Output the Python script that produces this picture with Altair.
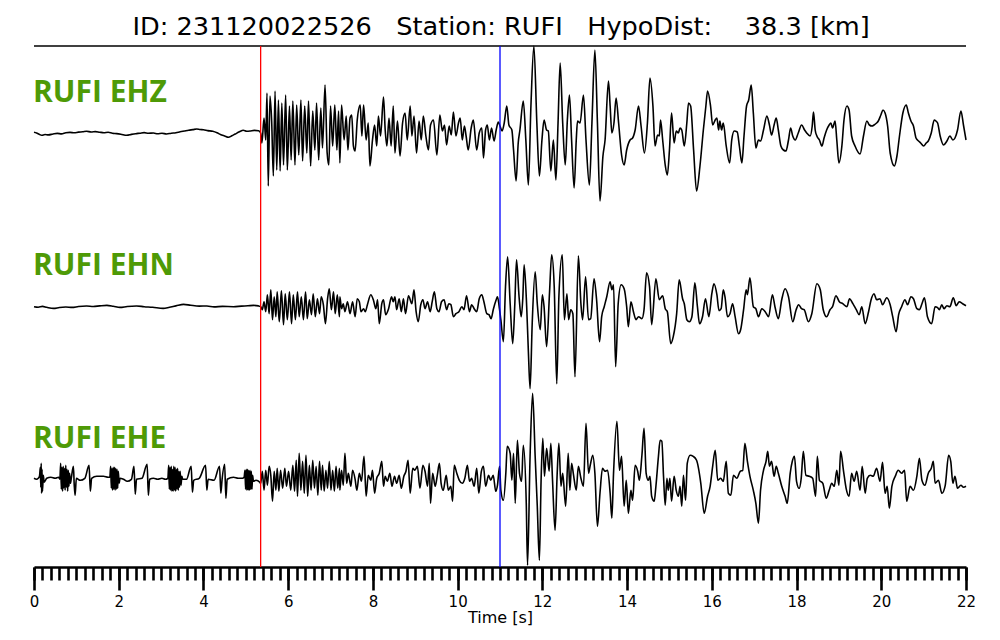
import altair as alt
import pandas as pd

# ---------------- text ----------------
NB = "\u00a0"
TITLE = "ID: 231120022526" + NB * 3 + "Station: RUFI" + NB * 3 + "HypoDist:" + NB * 4 + "38.3 [km]"
CHANNELS = ["RUFI EHZ", "RUFI EHN", "RUFI EHE"]
X_TITLE = "Time [s]"

# picks (s)
P_PICK = 5.35
S_PICK = 11.0

# tick values (s)
MAJOR_TICKS = list(range(0, 23, 2))
MINOR_TICKS = [round(0.2 * i, 1) for i in range(111)]

# ---------------- waveforms: (time [s], amplitude) ----------------
EHZ = [
    (0.00, 0.7), (0.06, 0.0), (0.12, -1.2), (0.18, -2.3), (0.26, -1.5), (0.34, -1.9), (0.45, -1.0),
    (0.55, -0.4), (0.65, -0.9), (0.75, 0.2), (0.85, 0.6), (0.95, 0.2), (1.05, 0.9), (1.15, 1.2),
    (1.24, 1.7), (1.35, 1.0), (1.45, 1.4), (1.55, 0.8), (1.65, 0.3), (1.75, 0.7), (1.85, -0.2),
    (1.95, -0.6), (2.05, -1.2), (2.19, -2.3), (2.30, -1.4), (2.40, -0.7), (2.50, -0.2), (2.60, 0.4),
    (2.70, -0.3), (2.82, 0.0), (2.92, -0.8), (3.02, -0.3), (3.13, -1.0), (3.24, -0.2), (3.35, 0.3),
    (3.45, 1.2), (3.55, 2.0), (3.65, 2.8), (3.75, 3.4), (3.84, 4.0), (3.92, 3.5), (4.00, 3.3),
    (4.10, 2.4), (4.22, 1.7), (4.32, 0.2), (4.40, -1.5), (4.50, -3.0), (4.59, -4.3), (4.67, -2.8),
    (4.75, -1.0), (4.85, 1.2), (4.94, 2.7), (5.02, 1.8), (5.10, 2.0), (5.20, 2.6), (5.30, 2.3),
    (5.35, 0), (5.38, -10), (5.43, 15), (5.47, -7), (5.50, 40), (5.53, -53), (5.57, 37), (5.61, 12),
    (5.65, -43), (5.69, 42), (5.73, -37), (5.77, 33), (5.81, -38), (5.85, 30), (5.89, -32), (5.94, 38),
    (5.98, -37), (6.03, 27), (6.07, -27), (6.11, 32), (6.16, -32), (6.20, 28), (6.25, -22), (6.30, 33),
    (6.34, -28), (6.39, 27), (6.44, -20), (6.48, 32), (6.53, -33), (6.58, 22), (6.63, -17), (6.67, 30),
    (6.72, -27), (6.77, 25), (6.81, -15), (6.87, 48), (6.92, -20), (6.96, -32), (7.00, 27), (7.05, -13),
    (7.10, 28), (7.15, -17), (7.19, 22),
    (7.22, -30), (7.26, 28), (7.32, -7), (7.37, 17), (7.41, -17), (7.46, 15), (7.50, 18), (7.54, -13),
    (7.58, -18), (7.63, 13), (7.70, 28), (7.74, -3), (7.78, 28), (7.84, -7), (7.89, 10), (7.93, -33),
    (7.99, -7), (8.04, 8), (8.09, -13), (8.13, 17), (8.18, -3), (8.25, 36), (8.29, 3), (8.33, -13),
    (8.38, 15), (8.43, -13), (8.48, 27), (8.52, -20), (8.58, 12), (8.64, -23), (8.70, 10), (8.76, 20),
    (8.81, -7), (8.88, 27), (8.92, -3), (8.97, 17), (9.03, -20), (9.09, 12), (9.14, -7), (9.19, 17),
    (9.25, -3), (9.31, -17), (9.36, 8), (9.43, 13), (9.51, -22), (9.58, 18), (9.64, 2), (9.69, 8),
    (9.74, -12), (9.80, 7), (9.85, -2), (9.90, 21), (9.96, -3), (10.02, 10), (10.06, 15), (10.11, -7),
    (10.16, 7), (10.20, -3), (10.25, -17), (10.32, 5), (10.37, 13), (10.45, -17), (10.51, 0), (10.57, 5),
    (10.61, -25), (10.66, 3), (10.70, 8), (10.75, -7), (10.80, 5), (10.86, -8), (10.91, 3), (10.96, 11),
    (11.00, 7), (11.05, 2), (11.10, 10), (11.16, 27), (11.21, 8), (11.28, 3), (11.32, -17), (11.38, -48),
    (11.43, -10), (11.47, 3), (11.55, 32), (11.61, -7), (11.67, -52), (11.73, 27), (11.80, 87), (11.87, 10),
    (11.93, -43), (11.99, -7), (12.04, 13), (12.10, 3), (12.14, 2), (12.20, -38), (12.26, -7), (12.32, -47),
    (12.37, 10), (12.42, 70), (12.48, 10), (12.54, -32), (12.59, 13), (12.64, 38), (12.69, -7), (12.75, -55),
    (12.80, -7), (12.83, 12), (12.89, 10), (12.97, 38), (13.03, -7), (13.11, -52), (13.17, 10), (13.24, 83),
    (13.30, 10), (13.36, -68), (13.43, -23), (13.48, -7), (13.56, 52), (13.60, 27), (13.64, 0), (13.69, 10),
    (13.74, 35), (13.80, 10), (13.87, -22), (13.93, -32), (13.99, -17), (14.07, -7), (14.13, -5), (14.19, 3),
    (14.27, 27), (14.33, 7), (14.41, -20), (14.48, 10), (14.54, 55),
    (14.61, 27), (14.66, -13), (14.72, -2), (14.76, -3), (14.79, 13), (14.84, -7), (14.90, -32), (14.95, -42),
    (15.00, -17), (15.05, 20), (15.11, -10), (15.16, 2), (15.21, 0), (15.25, 5), (15.29, 3), (15.35, -13),
    (15.41, 10), (15.45, 30), (15.50, 27), (15.57, -17), (15.64, -58), (15.72, -33), (15.80, 3), (15.86, 27),
    (15.90, 42), (15.97, 27), (16.02, 8), (16.08, 13), (16.12, 15), (16.16, 3), (16.19, 12), (16.23, 3),
    (16.27, 10), (16.34, -13), (16.42, -30), (16.47, -7), (16.53, 2), (16.60, 1), (16.65, -13), (16.71, -30),
    (16.76, -3), (16.82, 27), (16.87, 33), (16.93, 48), (16.98, 20), (17.04, -15), (17.10, -7), (17.15, -8),
    (17.22, 3), (17.30, 17), (17.36, 8), (17.41, -2), (17.47, 8), (17.52, 15), (17.57, 3), (17.63, -13),
    (17.69, -17), (17.75, -18), (17.81, -7), (17.86, 5), (17.91, -3), (17.97, -7), (18.04, 0), (18.12, 8),
    (18.19, 3), (18.24, 0), (18.32, -3), (18.37, 7), (18.40, 21), (18.44, 3), (18.48, -3), (18.54, -7),
    (18.60, -13), (18.65, -5), (18.71, 3), (18.77, 8), (18.81, 10), (18.85, 5), (18.91, 12), (18.95, -7),
    (19.00, -30), (19.07, -13), (19.12, 13), (19.19, 27), (19.24, 23), (19.30, -3), (19.38, -13), (19.50, -21),
    (19.58, -3), (19.66, 12), (19.72, 8), (19.78, 7), (19.83, 8), (19.89, 10), (19.93, 12), (19.99, 18),
    (20.04, 23), (20.09, 20), (20.15, 7), (20.21, -20), (20.31, -33), (20.37, -23), (20.43, -3), (20.51, 20),
    (20.59, 28), (20.64, 20), (20.70, 12), (20.76, 7), (20.82, -5), (20.88, -8), (20.93, -10), (21.00, -13),
    (21.06, -10), (21.11, -8), (21.18, 0), (21.25, 13), (21.29, 12), (21.33, 10), (21.39, -3), (21.47, -12),
    (21.55, -8), (21.62, -3), (21.69, -7), (21.74, -5), (21.80, 3), (21.88, 22), (21.94, 8), (22.00, -7),
]

EHN = [
    (0.00, 0.0), (0.10, -0.5), (0.20, 0.3), (0.30, -0.6), (0.46, -1.7), (0.60, -0.8), (0.75, -0.3),
    (0.90, -0.7), (1.05, 0.2), (1.24, 0.7), (1.40, 0.2), (1.55, 0.8), (1.72, 1.3), (1.87, 0.5),
    (2.03, -0.7), (2.20, 0.2), (2.42, 0.7), (2.60, 0.0), (2.80, -0.6), (3.05, -1.7), (3.20, -0.5),
    (3.35, 0.8), (3.53, 2.3), (3.70, 1.4), (3.90, 0.6), (4.08, 0.7), (4.25, -0.2), (4.45, 0.3),
    (4.71, 0.0), (4.90, 0.6), (5.05, 0.9), (5.18, 1.3), (5.30, 0.8),
    (5.35, 0), (5.39, -3), (5.43, 5), (5.47, -5), (5.51, 12), (5.55, -7), (5.59, 17), (5.63, -13),
    (5.67, 10), (5.71, -10), (5.74, 15), (5.79, -15), (5.84, 16), (5.89, -18), (5.93, 13), (5.98, -13),
    (6.03, 15), (6.08, -17), (6.12, 12), (6.17, -13), (6.22, 15), (6.26, -10), (6.31, 10), (6.36, -13),
    (6.41, 15), (6.45, -12), (6.50, 7), (6.55, -8), (6.59, 13), (6.64, -10), (6.69, 8), (6.74, -7),
    (6.78, 10), (6.83, 2), (6.88, -17), (6.93, 8), (6.97, 18), (7.02, -3), (7.07, 15), (7.11, -7),
    (7.16, 12), (7.21, -10),
    (7.22, 10), (7.26, -2), (7.30, 3), (7.34, -5), (7.40, 5), (7.46, -7), (7.52, 5), (7.58, -10),
    (7.63, 8), (7.68, 5), (7.72, -5), (7.78, -2), (7.82, -5), (7.87, 2), (7.95, 12), (8.01, 7),
    (8.07, -2), (8.11, 7), (8.15, -17), (8.21, 3), (8.25, 7), (8.30, -8), (8.37, -2), (8.44, 10),
    (8.48, 5), (8.52, 10), (8.56, -3), (8.62, 8), (8.67, -5), (8.72, 8), (8.77, -7), (8.84, 11),
    (8.92, 3), (8.97, 17), (9.02, -5), (9.07, -15), (9.13, 2), (9.18, 7), (9.23, -2), (9.29, 5),
    (9.35, -5), (9.40, 5), (9.45, 15), (9.51, -2), (9.56, -5), (9.62, 5), (9.68, 7), (9.74, -3),
    (9.79, 3), (9.84, 2), (9.90, -10), (9.96, -7), (10.03, -5), (10.10, 0), (10.15, -3), (10.21, 11),
    (10.28, -5), (10.33, 2), (10.39, -2), (10.45, -5), (10.51, 8), (10.57, 12), (10.62, 5), (10.69, -7),
    (10.74, -8), (10.79, -12), (10.84, -3), (10.91, 7), (10.94, 10), (10.99, -3), (11.02, -13),
    (11.08, -35), (11.13, 20), (11.18, 50), (11.24, 3), (11.30, -37), (11.35, 3), (11.39, 47), (11.45, 10),
    (11.50, -10), (11.54, 10), (11.57, 42), (11.63, 0), (11.67, -45), (11.71, -82), (11.76, -17),
    (11.83, 35), (11.88, 3), (11.95, -23), (12.00, 12), (12.04, 0), (12.10, -40), (12.17, 15), (12.22, 52),
    (12.28, 20), (12.34, -77), (12.39, 10), (12.47, 52), (12.52, -13), (12.58, 13), (12.62, -13),
    (12.67, -3), (12.72, -7), (12.77, -70), (12.85, 51), (12.91, 3), (12.95, -13), (13.02, 30),
    (13.09, -13), (13.14, -12), (13.22, 28), (13.28, 7), (13.35, -35), (13.40, -10), (13.46, 0),
    (13.52, 10), (13.60, 25), (13.64, 17), (13.68, 22), (13.73, -60), (13.79, 3), (13.86, 22), (13.93, 18),
    (13.99, 0), (14.03, -20), (14.09, 5), (14.15, -5), (14.21, -13), (14.27, -10), (14.35, -12),
    (14.40, -3), (14.46, 34), (14.53, 20),
    (14.58, -18), (14.68, 28), (14.76, 7), (14.84, 11), (14.90, -2), (14.95, -5), (15.03, -37), (15.09, -30),
    (15.17, -7), (15.23, 27), (15.31, 8), (15.35, 3), (15.41, -13), (15.47, -15), (15.53, -10), (15.60, 24),
    (15.66, 0), (15.71, -17), (15.78, -10), (15.85, 8), (15.93, -10), (16.00, 13), (16.05, 23), (16.12, 12),
    (16.17, -4), (16.22, -2), (16.27, 17), (16.31, 10), (16.37, -10), (16.43, -7), (16.49, 3), (16.55, -10),
    (16.63, -27), (16.68, -23), (16.75, -3), (16.81, 17), (16.84, 12), (16.90, 29), (16.98, 0), (17.04, -2),
    (17.10, -10), (17.18, -2), (17.26, -5), (17.34, -10), (17.43, 12), (17.49, 0), (17.57, -12), (17.65, 7),
    (17.73, 18), (17.81, 10), (17.91, -15), (17.99, -3), (18.05, 2), (18.12, -2), (18.18, -3), (18.28, -15),
    (18.36, -7), (18.48, 23), (18.56, 17), (18.63, -3), (18.71, -10), (18.79, -3), (18.85, 0), (18.93, 11),
    (19.01, 5), (19.09, 3), (19.19, 0), (19.25, 8), (19.33, 3), (19.41, -3), (19.48, -8), (19.54, 0),
    (19.62, -17), (19.70, -5), (19.76, 7), (19.83, 13), (19.89, 7), (19.97, 8), (20.03, 2), (20.13, 9),
    (20.21, 2), (20.27, -10), (20.35, -25), (20.41, -8), (20.48, 0), (20.56, 7), (20.62, 2), (20.70, 10),
    (20.76, 8), (20.84, -2), (20.90, -3), (20.96, 3), (21.02, 9), (21.09, -10), (21.19, -17), (21.27, 0),
    (21.33, -1), (21.37, -3), (21.43, 2), (21.48, -2), (21.55, 1), (21.62, 0), (21.70, 9), (21.77, 1),
    (21.84, 5), (21.92, 3), (22.00, 1),
]

EHE = [
    (0.00, 1), (0.06, 0), (0.10, 1),
    (0.13, 3), (0.15, 12), (0.16, -8), (0.17, 16), (0.18, -14), (0.19, 10), (0.20, -12), (0.22, 4), (0.24, -3),
    (0.30, 1), (0.40, 2), (0.50, 1), (0.58, 2),
    (0.61, 0), (0.63, 16), (0.645, -10), (0.66, 12), (0.675, -12), (0.69, 13), (0.705, -9), (0.72, 11),
    (0.735, -11), (0.75, 14), (0.765, -8), (0.78, 10), (0.795, -12), (0.81, 9), (0.825, -7), (0.84, 6),
    (0.86, -4), (0.88, 1),
    (0.93, 13), (0.95, -6), (0.97, -16), (1.00, 1), (1.09, -1), (1.20, 1),
    (1.30, 14), (1.33, -12), (1.36, 1), (1.48, 3), (1.64, 3), (1.75, 2),
    (1.79, 2), (1.81, 13), (1.825, -9), (1.84, 11), (1.855, -11), (1.87, 12), (1.885, -10), (1.90, 12),
    (1.915, -11), (1.93, 11), (1.945, -10), (1.96, 10), (1.975, -9), (1.99, 8), (2.01, -4), (2.03, 1),
    (2.11, 0), (2.20, -2), (2.30, 0),
    (2.36, 13), (2.39, -15), (2.42, 0), (2.55, 1),
    (2.67, 15), (2.70, -16), (2.73, 0), (2.82, 1), (2.92, 0), (3.02, 1), (3.10, 0),
    (3.16, 1), (3.18, 14), (3.195, -10), (3.21, 12), (3.225, -11), (3.24, 13), (3.255, -12), (3.27, 10),
    (3.285, -12), (3.30, 13), (3.315, -11), (3.33, 12), (3.345, -12), (3.36, 10), (3.375, -10), (3.39, 11),
    (3.405, -11), (3.42, 8), (3.435, -8), (3.45, 8), (3.47, -6), (3.49, 3), (3.51, 0),
    (3.60, 0), (3.71, 13), (3.74, -13), (3.77, -1), (3.90, 1),
    (4.05, 14), (4.08, -11), (4.11, 0), (4.25, -1),
    (4.38, 13), (4.41, -14), (4.44, 0), (4.50, 15), (4.53, -19), (4.56, 0), (4.71, 2), (4.82, 1), (4.92, 1),
    (4.96, 2), (4.98, 9), (4.995, -10), (5.01, 10), (5.025, -11), (5.04, 10), (5.055, -11), (5.07, 9),
    (5.085, -11), (5.10, 9), (5.115, -10), (5.13, 8), (5.145, -10), (5.16, 4), (5.18, -2),
    (5.24, -1), (5.33, -3),
    (5.35, -4), (5.39, 8), (5.43, -11), (5.47, 9), (5.51, -6), (5.55, 13), (5.59, 4), (5.63, -22),
    (5.67, 8), (5.71, -11), (5.74, 11), (5.78, -12), (5.82, 9), (5.87, -9), (5.92, 11), (5.96, -7),
    (6.01, 8), (6.06, -11), (6.11, 14), (6.15, -12), (6.19, 19), (6.22, -17), (6.26, 26), (6.30, -11),
    (6.34, 18), (6.38, -14), (6.42, 24), (6.46, -17), (6.50, 14), (6.54, -11), (6.58, 19), (6.62, -9),
    (6.66, 13), (6.70, -16), (6.74, 18), (6.78, -11), (6.81, 14), (6.85, -12), (6.89, 9), (6.93, -9),
    (6.97, 18), (7.01, -11), (7.05, 9), (7.09, -12), (7.13, 13), (7.17, -9), (7.21, 11),
    (7.22, -11), (7.26, 9), (7.30, -6), (7.34, 26), (7.38, -4), (7.42, 6), (7.48, -7), (7.52, 9),
    (7.58, 0), (7.62, -11), (7.68, 6), (7.73, -2), (7.79, 23), (7.84, -17), (7.89, 4), (7.95, -1),
    (7.99, 9), (8.04, -14), (8.09, 1), (8.15, 6), (8.21, 18), (8.25, -7), (8.29, 3), (8.34, -2),
    (8.40, 6), (8.45, -7), (8.51, 3), (8.56, -4), (8.62, 4), (8.67, -9), (8.73, 3), (8.78, 8),
    (8.83, 19), (8.88, -14), (8.94, 11), (8.99, 9), (9.05, 13), (9.11, -9), (9.18, 14), (9.23, 8),
    (9.29, -7), (9.33, 16), (9.36, -24), (9.41, 6), (9.47, -7), (9.52, 4), (9.57, 16), (9.61, -4),
    (9.66, -11), (9.73, 4), (9.78, -11), (9.84, -7), (9.88, -22), (9.92, 14), (9.98, 6), (10.04, -1),
    (10.11, -4), (10.17, 1), (10.23, 14), (10.28, -2), (10.33, 1), (10.39, -7), (10.45, 11), (10.50, -14),
    (10.56, 8), (10.61, 13), (10.66, -7), (10.73, 4), (10.78, -1), (10.84, 4), (10.90, -12), (10.94, -6),
    (10.99, 13), (11.02, -11), (11.08, -21), (11.14, 8), (11.17, 33), (11.24, 26), (11.28, -1), (11.32, 26),
    (11.36, -24), (11.41, 39), (11.46, 6), (11.51, -2), (11.55, 34), (11.62, -24), (11.65, -86), (11.71, 23),
    (11.77, 86), (11.83, 23), (11.88, -27), (11.93, -81), (11.97, -1), (12.01, 41), (12.05, 3), (12.10, 31),
    (12.16, 8), (12.20, 36), (12.24, -1), (12.30, -51), (12.35, 6), (12.39, 36), (12.44, -7), (12.48, 6),
    (12.55, -27), (12.61, 26), (12.65, -11), (12.69, 16), (12.73, 6), (12.80, -11), (12.85, 13), (12.91, 1),
    (12.97, -7), (13.03, 56), (13.09, 6), (13.13, 14), (13.19, 24), (13.24, 6), (13.30, -47), (13.36, -14),
    (13.42, 11), (13.48, 8), (13.54, 9), (13.60, -14), (13.64, -39), (13.68, 6), (13.76, 58), (13.82, 9),
    (13.87, 23), (13.93, -27), (13.98, -1), (14.03, -34), (14.09, -11), (14.13, -21), (14.19, 14), (14.25, 8),
    (14.29, -1), (14.35, 24), (14.40, 51), (14.45, 6), (14.50, -1),
    (14.54, 3), (14.58, -17), (14.64, -22), (14.68, -7), (14.74, 23), (14.78, 39), (14.82, 38), (14.86, 3),
    (14.90, -26), (14.94, 1), (14.97, -11), (15.01, 1), (15.05, -22), (15.11, 3), (15.16, -11), (15.21, -17),
    (15.25, -7), (15.29, -27), (15.33, 4), (15.38, -21), (15.42, 16), (15.49, 24), (15.56, 23), (15.64, 19),
    (15.74, -4), (15.82, -34), (15.90, -17), (15.96, -7), (16.02, 13), (16.08, 29), (16.14, -1), (16.21, 1),
    (16.27, -2), (16.34, 18), (16.39, -14), (16.45, -16), (16.51, 4), (16.59, 1), (16.67, 8), (16.73, 9),
    (16.78, 36), (16.84, 18), (16.90, 3), (16.98, -11), (17.04, -24), (17.10, -44), (17.15, -11), (17.22, 9),
    (17.28, 18), (17.32, 28), (17.36, 13), (17.41, 18), (17.47, 3), (17.52, 13), (17.57, 6), (17.65, -7),
    (17.73, -17), (17.78, -24), (17.85, 6), (17.90, 18), (17.95, 23), (18.00, -2), (18.06, -9), (18.11, 1),
    (18.16, 28), (18.22, 4), (18.30, 3), (18.38, 1), (18.45, -17), (18.49, 23), (18.54, -1), (18.62, -4),
    (18.70, -19), (18.77, -11), (18.83, -4), (18.89, -7), (18.95, 9), (19.00, -6), (19.04, 28), (19.11, 8),
    (19.17, -9), (19.24, -17), (19.30, 6), (19.36, -2), (19.42, 8), (19.50, -11), (19.55, 13), (19.62, -14),
    (19.67, 1), (19.74, 4), (19.81, 3), (19.89, 11), (19.97, -2), (20.03, 17), (20.09, -14), (20.14, -7),
    (20.19, -29), (20.25, -7), (20.33, 3), (20.40, 9), (20.48, 6), (20.55, 9), (20.60, -22), (20.68, -7),
    (20.76, -11), (20.84, 3), (20.90, 21), (20.96, -1), (21.03, -6), (21.11, 6), (21.18, 11), (21.23, 18),
    (21.27, -4), (21.35, -1), (21.43, -14), (21.51, -6), (21.59, 24), (21.64, 18), (21.69, -4), (21.74, 3),
    (21.80, -9), (21.88, -6), (21.94, -8), (22.00, -7),
]

# ---------------- layout constants ----------------
W, H = 932, 559
TRACE_BASE = {"RUFI EHZ": 434.0, "RUFI EHN": 260.3, "RUFI EHE": 87.7}
LABEL_RAISE = 31.5
GREEN = "#4e9a06"

frames = []
for name, pairs in zip(CHANNELS, [EHZ, EHN, EHE]):
    frames.append(pd.DataFrame({
        "trace": name,
        "t": [p[0] for p in pairs],
        "y": [p[1] + TRACE_BASE[name] for p in pairs],
    }))
waves = pd.concat(frames, ignore_index=True)

labels = pd.DataFrame({"trace": CHANNELS, "ly": [TRACE_BASE[c] + LABEL_RAISE for c in CHANNELS]})
picks = pd.DataFrame({"t": [P_PICK, S_PICK], "c": ["#ff0000", "#0000ff"]})
title_df = pd.DataFrame({"txt": [TITLE]})

xscale = alt.Scale(domain=[0, 22], nice=False, zero=False)
yscale = alt.Scale(domain=[0, H], nice=False, zero=False)

minor_axis = alt.Axis(values=MINOR_TICKS, orient="bottom", labels=False, ticks=True, tickSize=13,
                      tickWidth=2.6, tickColor="black", domain=True, domainWidth=2.6, domainColor="black",
                      grid=False, title="")
major_axis = alt.Axis(values=MAJOR_TICKS, orient="bottom", labels=True, ticks=True, tickSize=23,
                      tickWidth=2.6, tickColor="black", domain=False, grid=False,
                      labelFont="DejaVu Sans", labelFontSize=15, labelColor="black", labelPadding=4,
                      labelFlush=False, format="d",
                      title=X_TITLE, titleFont="DejaVu Sans", titleFontSize=16, titleFontWeight="normal",
                      titleColor="black", titlePadding=0)

lines = alt.Chart(waves).mark_line(
    color="black", strokeWidth=1.6, strokeJoin="round", interpolate="monotone"
).encode(
    x=alt.X("t:Q", scale=xscale, axis=minor_axis),
    y=alt.Y("y:Q", scale=yscale, axis=None),
    detail="trace:N",
    order="t:Q",
)

pick_rules = alt.Chart(picks).mark_rule(strokeWidth=1.3).encode(
    x=alt.X("t:Q", scale=xscale, axis=major_axis),
    y=alt.value(38),
    y2=alt.value(H),
    color=alt.Color("c:N", scale=None),
)

title_rule = alt.Chart(title_df).mark_rule(color="black", strokeWidth=1.5).encode(
    x=alt.value(0), x2=alt.value(W), y=alt.value(38)
)

title_text = alt.Chart(title_df).mark_text(
    font="DejaVu Sans", fontSize=25.6, align="center", baseline="alphabetic", color="black"
).encode(x=alt.value(467), y=alt.value(27.3), text="txt:N")

label_text = alt.Chart(labels).mark_text(
    font="Open Sans", fontWeight="bold", fontSize=30, align="left", baseline="alphabetic", color=GREEN
).encode(
    x=alt.value(-1),
    y=alt.Y("ly:Q", scale=yscale, axis=None),
    text="trace:N",
)

chart = alt.layer(title_rule, title_text, label_text, lines, pick_rules).resolve_axis(
    x="independent"
).properties(
    width=W, height=H,
    autosize=alt.AutoSizeParams(type="none"),
    padding={"left": 26, "top": 0, "right": 26, "bottom": 70},
    background="white",
).configure_view(stroke="transparent")

chart.save("out.html", embed_options={"renderer": "svg", "actions": False})
